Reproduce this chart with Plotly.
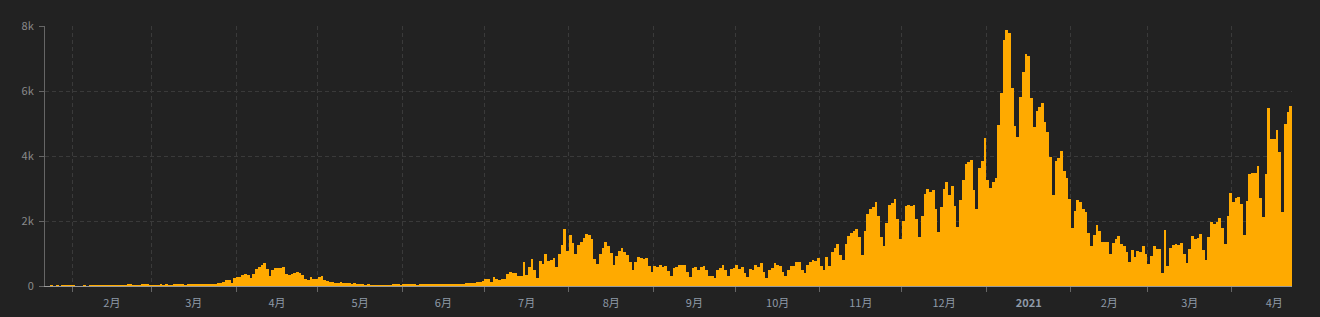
import pandas as pd
import plotly.graph_objects as go

start_date = "2020-01-22"

# daily values (one per day from start_date)
early_jan_feb = [0, 0, 1, 0, 2, 0, 3, 1, 4, 3,
                 3, 0, 0, 0, 5, 0, 1, 4, 2, 1, 2, 1, 8, 10, 8, 6, 6, 6, 9, 10,
                 40, 38, 20, 18, 22, 40, 42, 38, 12, 10, 30, 28, 32, 30, 60, 30, 28, 33, 55, 52, 56, 30]
first_wave = [40, 60, 35, 60, 35, 35, 60, 35, 35, 38, 60, 100, 100, 130, 190, 190, 90, 255, 285, 285,
              340, 370, 340, 255, 380, 530, 585, 655, 720, 530, 320, 500, 565, 565, 565, 595, 370, 350,
              380, 410, 430, 410, 350, 225, 195, 290, 225, 225, 280, 320, 195, 165, 135, 115]
may_june = [100, 95, 130, 95, 85, 100, 60, 90, 55, 45, 40, 30, 35, 30, 25, 20, 30, 25, 20, 30,
            30, 70, 65, 35, 30, 60, 35, 40, 60, 40, 30, 35, 40, 55, 45, 35, 55, 55, 45, 40,
            40, 45, 40, 70, 70, 70, 40, 45, 90, 90, 92, 95, 125, 125, 155]
jul_aug = [225, 225, 135, 290, 225, 195, 225, 225, 370, 440, 410, 410, 300, 320, 750, 350, 595, 840,
           500, 255, 780, 690, 995, 780, 810, 870, 595, 995, 1270, 1765, 1090, 1580, 1335, 995, 1270,
           1365, 1490, 1610, 1580, 1455, 840, 690, 995, 1180, 1365, 1240, 1025, 655, 935, 1090, 1180,
           1055, 965, 750, 500, 750, 905, 870, 840, 870, 625, 440]
sep_oct = [625, 595, 655, 595, 625, 460, 320, 565, 595, 655, 655, 655, 440, 290, 565, 595, 500, 595,
           625, 500, 320, 320, 255, 500, 565, 655, 500, 318, 534, 564,
           657, 534, 595, 410, 287, 534, 503, 657, 595, 718, 441, 257, 503, 564, 718, 657, 626, 441,
           318, 503, 626, 626, 749, 749, 503, 410, 657, 749, 811, 780, 872]
nov_dec = [626, 503, 903, 626, 1057, 1180, 1303, 965, 811, 1303, 1549, 1642, 1703, 1765, 1518, 964,
           1703, 2226, 2380, 2442, 2596, 2165, 1518, 1241, 1949, 2503, 2565, 2688, 2073, 1457,
           2011, 2473, 2503, 2473, 2503, 2073, 1518, 2165, 2842, 2996, 2904, 2965, 2380, 1672, 2442,
           2996, 3211, 2811, 3088, 2473, 1826, 2657, 3273, 3765, 3827, 3888, 2965, 2380, 3642, 3858, 4566]
jan_feb_2021 = [3273, 3027, 3211, 3335, 4966, 5951, 7582, 7890, 7798, 6105, 4935, 4597, 5828, 6597,
                7151, 7090, 5797, 4904, 5397, 5520, 5643, 5058, 4750, 3981, 2811, 3858, 3950, 4166,
                3550, 3335, 2688,
                1795, 2319, 2657, 2596, 2380, 2288, 1642, 1241, 1580, 1888, 1703, 1365, 1365, 1365,
                995, 1334, 1457, 1549, 1303, 1241, 1057, 749, 1118, 903, 1088, 1057, 1241, 995]
mar_apr_2021 = [687, 934, 1241, 1149, 1149, 410, 1734, 626, 1180, 1272, 1303, 1272, 1334, 995, 718,
                1149, 1549, 1457, 1488, 1611, 1118, 811, 1518, 1980, 1919, 1980, 2103, 1796, 1303,
                2165, 2873,
                2596, 2719, 2750, 2534, 1580, 2627, 3458, 3488, 3488, 3704, 2719, 2134, 3458, 5489,
                4535, 4535, 4812, 4135, 2288, 4997, 5366, 5551]

daily_cases = (early_jan_feb + first_wave + may_june + jul_aug + sep_oct
               + nov_dec + jan_feb_2021 + mar_apr_2021)
dates = pd.date_range(start_date, periods=len(daily_cases), freq="D")

y_ticks = [0, 2000, 4000, 6000, 8000]
y_tick_labels = ["0", "2k", "4k", "6k", "8k"]

fig = go.Figure()
fig.add_trace(go.Bar(
    x=dates, y=daily_cases,
    xperiod=86400000, xperiodalignment="middle",
    marker=dict(color="#ffaa00", line=dict(width=0)),
    hoverinfo="x+y",
))

grid = "#3a3a3a"
dash = "4px,3px"
fig.update_layout(
    width=1320, height=317,
    margin=dict(l=45, r=28, t=26, b=31, autoexpand=False),
    paper_bgcolor="#222222", plot_bgcolor="#222222",
    bargap=0, showlegend=False,
    font=dict(family="Noto Sans CJK SC, Noto Sans, sans-serif", size=11, color="#8a8a8a"),
    xaxis=dict(
        type="date",
        range=[dates[0], dates[-1] + pd.Timedelta(days=1)],
        tick0="2020-01-01", dtick="M1",
        ticklabelmode="period",
        tickformat="%-m月",
        labelalias={"1月": "<b>2021</b>"},
        tickfont=dict(color="#8f9aa8", size=11),
        showgrid=True, gridcolor=grid, griddash=dash, gridwidth=1,
        showline=True, linecolor="#9a9a9a", linewidth=1,
        ticks="outside", ticklen=5, tickcolor="#666666",
        ticklabelstandoff=2,
        zeroline=False, automargin=False,
    ),
    yaxis=dict(
        range=[0, 8000],
        tickvals=y_ticks, ticktext=y_tick_labels,
        tickfont=dict(color="#8a8a8a", size=11),
        showgrid=True, gridcolor=grid, griddash=dash, gridwidth=1,
        showline=True, linecolor="#666666", linewidth=1,
        ticks="outside", ticklen=5, tickcolor="#666666",
        ticklabelstandoff=3,
        zeroline=False, automargin=False,
    ),
)

fig.write_html("out.html")
